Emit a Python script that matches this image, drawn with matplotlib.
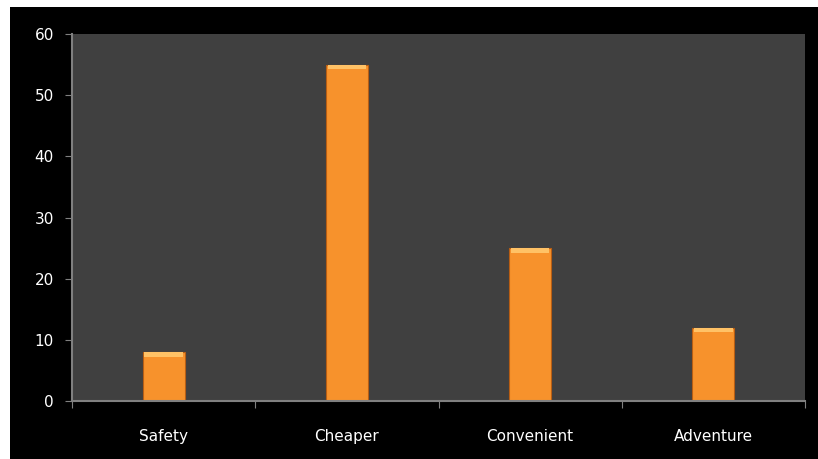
import matplotlib.pyplot as plt
from matplotlib.patches import Rectangle

categories = ['Safety', 'Cheaper', 'Convenient', 'Adventure']
values = [8, 55, 25, 12]

fig = plt.figure(figsize=(8.18, 4.59), dpi=100)
fig.patch.set_facecolor('white')
fig.patches.append(Rectangle((10/818, 0), 1, 1 - 7/459, transform=fig.transFigure,
                             facecolor='black', edgecolor='none', zorder=-10))

ax = fig.add_axes([72/818, 1 - 401/459, (805-72)/818, (401-34)/459])
ax.set_facecolor('#404040')

x = list(range(len(categories)))
ax.bar(x, values, width=0.23, color='#F7922C', edgecolor='#B85E14', linewidth=0.8, zorder=2)
# lighter cap on each bar
ax.bar(x, [0.8]*len(values), bottom=[v - 0.8 for v in values], width=0.21,
       color='#FFC266', edgecolor='none', zorder=3)

ax.set_xlim(-0.5, 3.5)
ax.set_ylim(0, 60)
ax.set_yticks(range(0, 61, 10))
ax.set_xticks([i - 0.5 for i in range(len(categories) + 1)])
ax.set_xticklabels([])
ax.set_xticks(x, minor=True)
ax.set_xticklabels(categories, minor=True)
ax.tick_params(axis='x', which='minor', length=0, pad=20)
ax.tick_params(axis='x', which='major', length=5, color='#808080')
ax.tick_params(axis='y', length=5, color='#808080', pad=8)
for lbl in ax.get_xticklabels(minor=True) + ax.get_yticklabels():
    lbl.set_color('white')
    lbl.set_fontsize(11)

for s in ['top', 'right']:
    ax.spines[s].set_visible(False)
for s in ['left', 'bottom']:
    ax.spines[s].set_color('#808080')
    ax.spines[s].set_linewidth(1.5)

fig.savefig('out.png', dpi=100, facecolor=fig.get_facecolor())
